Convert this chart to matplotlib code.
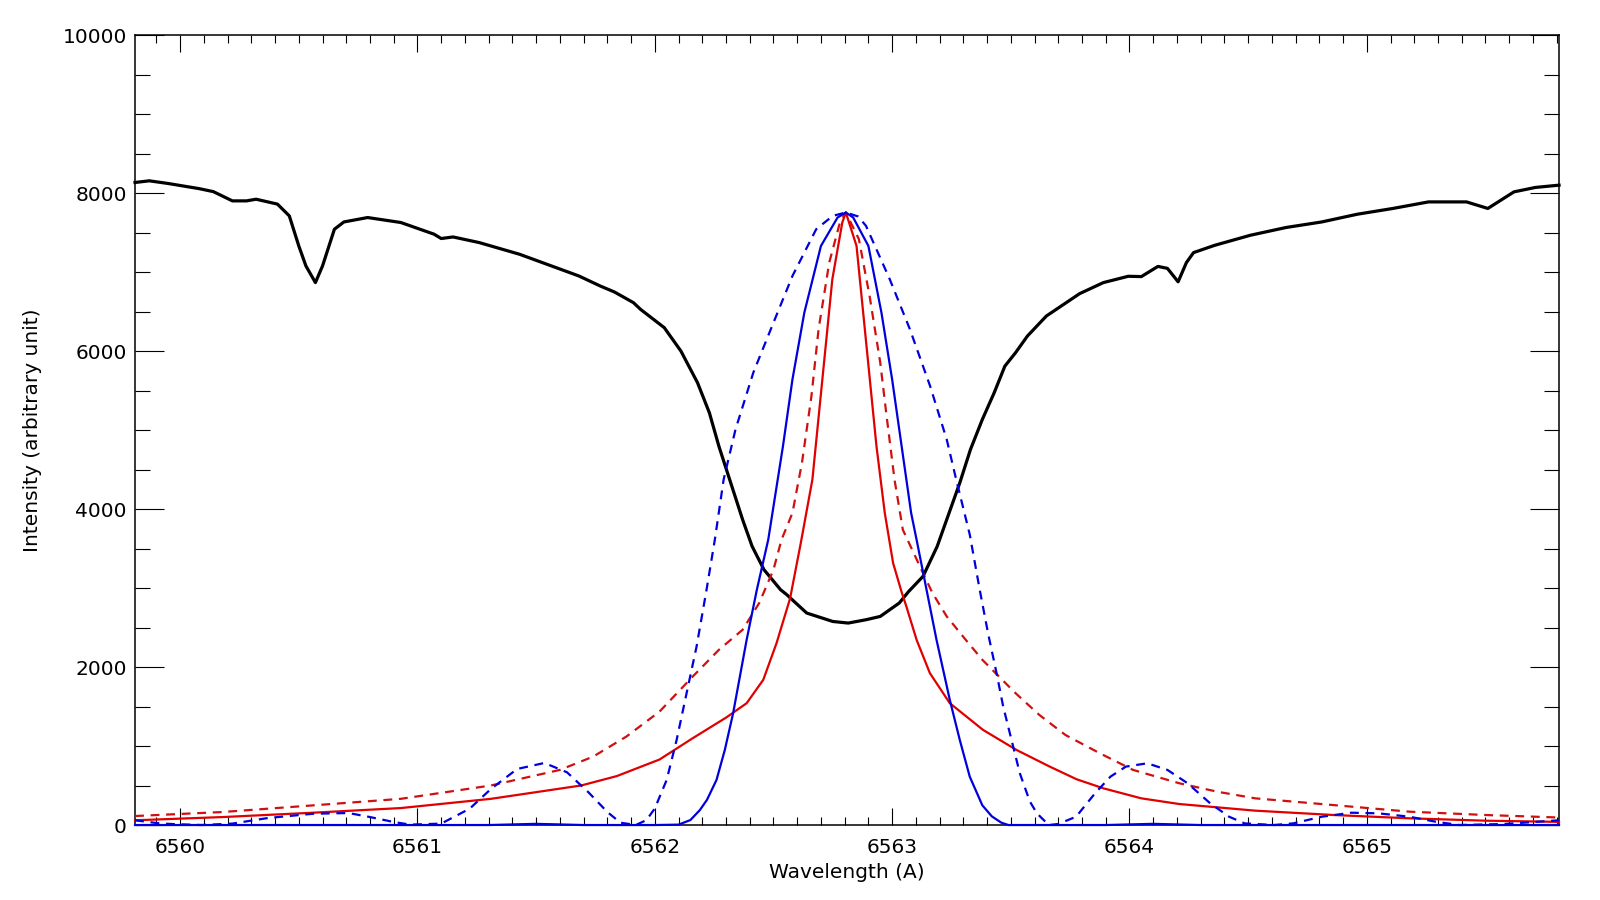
import matplotlib
matplotlib.use("Agg")
from matplotlib import pyplot as plt
from matplotlib.ticker import MultipleLocator

# observed H-alpha profile (black)
wl_obs = [6559.81, 6559.87, 6559.95, 6560.08, 6560.14, 6560.22, 6560.28, 6560.32,
          6560.41, 6560.46, 6560.50, 6560.53, 6560.57, 6560.60, 6560.65, 6560.69,
          6560.79, 6560.93, 6561.07, 6561.10, 6561.15, 6561.26, 6561.43, 6561.68,
          6561.77, 6561.83, 6561.91, 6561.94, 6562.04, 6562.11, 6562.18, 6562.23,
          6562.27, 6562.32, 6562.37, 6562.41, 6562.46, 6562.53, 6562.555, 6562.64,
          6562.75, 6562.815, 6562.89, 6562.95, 6562.99, 6563.03, 6563.07, 6563.13,
          6563.19, 6563.24, 6563.285, 6563.33, 6563.38, 6563.43, 6563.475, 6563.52,
          6563.57, 6563.65, 6563.79, 6563.89, 6563.995, 6564.05, 6564.12, 6564.16,
          6564.205, 6564.24, 6564.27, 6564.36, 6564.51, 6564.66, 6564.81, 6564.96,
          6565.11, 6565.26, 6565.42, 6565.51, 6565.62, 6565.71, 6565.81]
int_obs = [8138, 8159, 8125, 8060, 8022, 7905, 7905, 7926,
           7864, 7715, 7334, 7081, 6870, 7081, 7546, 7638,
           7694, 7631, 7483, 7428, 7448, 7377, 7229, 6954,
           6827, 6751, 6616, 6531, 6299, 6003, 5602, 5221,
           4798, 4333, 3868, 3530, 3234, 2980, 2920, 2685,
           2578, 2558, 2600, 2642, 2727, 2812, 2959, 3149,
           3530, 3953, 4333, 4756, 5136, 5475, 5812, 5982,
           6193, 6447, 6730, 6870, 6950, 6946, 7075, 7050,
           6880, 7124, 7250, 7343, 7470, 7568, 7638, 7736,
           7809, 7892, 7892, 7809, 8019, 8075, 8104]

# filter profile, solid blue
wl_blue = [6559.81, 6561.30, 6561.50, 6561.70, 6562.00, 6562.10, 6562.15, 6562.19,
           6562.22, 6562.26, 6562.295, 6562.33, 6562.387, 6562.43, 6562.478, 6562.54,
           6562.58, 6562.63, 6562.70, 6562.77, 6562.805, 6562.836, 6562.90, 6562.955,
           6563.00, 6563.04, 6563.08, 6563.103, 6563.145, 6563.187, 6563.243, 6563.285,
           6563.327, 6563.38, 6563.42, 6563.46, 6563.49, 6563.90, 6564.10, 6564.30,
           6565.81]
int_blue = [0, 0, 15, 0, 0, 5, 63, 190,
            320, 571, 951, 1416, 2346, 2980, 3614, 4798,
            5644, 6489, 7334, 7694, 7758, 7694, 7334, 6489,
            5644, 4798, 3953, 3614, 2980, 2346, 1585, 1078,
            613, 250, 110, 30, 0, 0, 15, 0,
            0]

# filter profile, dashed blue
wl_blue_d = [6559.81, 6559.92, 6560.09, 6560.22, 6560.37, 6560.56, 6560.71, 6560.80,
             6560.90, 6560.97, 6561.10, 6561.22, 6561.31, 6561.42, 6561.535, 6561.63,
             6561.72, 6561.80, 6561.855, 6561.92, 6561.965, 6562.00, 6562.05, 6562.092,
             6562.134, 6562.176, 6562.218, 6562.253, 6562.29, 6562.34, 6562.415, 6562.50,
             6562.58, 6562.68, 6562.75, 6562.805, 6562.857, 6562.89, 6562.99, 6563.075,
             6563.16, 6563.23, 6563.27, 6563.327, 6563.369, 6563.404, 6563.44, 6563.468,
             6563.503, 6563.538, 6563.58, 6563.61, 6563.66, 6563.70, 6563.775, 6563.855,
             6563.92, 6563.985, 6564.075, 6564.16, 6564.245, 6564.34, 6564.42, 6564.485,
             6564.61, 6564.69, 6564.81, 6564.935, 6565.05, 6565.18, 6565.29, 6565.39,
             6565.58, 6565.72, 6565.81]
int_blue_d = [60, 18, 0, 18, 89, 143, 152, 101,
              38, 5, 18, 207, 458, 710, 786, 668,
              416, 165, 30, 0, 63, 210, 571, 1078,
              1670, 2261, 2980, 3614, 4375, 5010, 5729, 6363,
              6954, 7546, 7715, 7758, 7707, 7588, 6912, 6278,
              5559, 4883, 4375, 3680, 2980, 2431, 1924, 1500,
              1078, 656, 300, 148, 0, 13, 105, 402,
              613, 740, 782, 698, 529, 275, 105, 21,
              0, 21, 105, 156, 148, 105, 42, 0,
              13, 42, 60]

# model profile, solid red
wl_red = [6559.81, 6560.18, 6560.56, 6560.93, 6561.31, 6561.69, 6561.84, 6562.02,
          6562.16, 6562.30, 6562.387, 6562.457, 6562.513, 6562.57, 6562.615, 6562.664,
          6562.692, 6562.72, 6562.748, 6562.79, 6562.805, 6562.85, 6562.878, 6562.906,
          6562.934, 6562.969, 6563.004, 6563.04, 6563.06, 6563.103, 6563.159, 6563.243,
          6563.383, 6563.524, 6563.664, 6563.777, 6563.89, 6564.05, 6564.21, 6564.53,
          6564.86, 6565.18, 6565.50, 6565.81]
int_red = [60, 101, 156, 215, 332, 501, 620, 830,
           1100, 1360, 1543, 1839, 2304, 2870, 3570, 4375,
           5221, 6066, 6912, 7631, 7758, 7334, 6489, 5644,
           4798, 3953, 3319, 2950, 2768, 2346, 1924, 1543,
           1205, 951, 740, 580, 465, 338, 266, 182,
           127, 85, 55, 40]

# model profile, dashed red
wl_red_d = [6559.81, 6560.18, 6560.56, 6560.93, 6561.31, 6561.60, 6561.74, 6561.88,
            6562.02, 6562.16, 6562.27, 6562.37, 6562.44, 6562.50, 6562.534, 6562.58,
            6562.62, 6562.66, 6562.69, 6562.735, 6562.78, 6562.805, 6562.86, 6562.905,
            6562.95, 6562.975, 6563.01, 6563.045, 6563.09, 6563.13, 6563.17, 6563.23,
            6563.31, 6563.38, 6563.45, 6563.52, 6563.62, 6563.73, 6563.875, 6564.015,
            6564.21, 6564.37, 6564.53, 6564.855, 6565.18, 6565.50, 6565.81]
int_red_d = [114, 165, 249, 332, 501, 698, 866, 1120,
             1437, 1881, 2219, 2473, 2812, 3234, 3614, 3953,
             4587, 5432, 6278, 7124, 7631, 7758, 7419, 6700,
             5855, 5221, 4375, 3741, 3450, 3192, 2938, 2642,
             2346, 2093, 1881, 1670, 1395, 1141, 909, 698,
             529, 422, 338, 254, 169, 127, 95]

plt.rcParams['font.family'] = ['DejaVu Sans']

fig = plt.figure(figsize=(16, 9), dpi=100)
ax = fig.add_axes([0.0844, 0.0833, 0.89, 0.8773])

blue = '#0000dd'
red = '#e00000'

ax.plot(wl_obs, int_obs, color='black', lw=2.3, clip_on=False, zorder=3)
ax.plot(wl_red_d, int_red_d, color='#d01010', lw=1.6, dashes=(4, 3), clip_on=False, zorder=4)
ax.plot(wl_red, int_red, color=red, lw=1.6, clip_on=False, zorder=4)
ax.plot(wl_blue_d, int_blue_d, color=blue, lw=1.6, dashes=(4, 3), clip_on=False, zorder=5)
ax.plot(wl_blue, int_blue, color=blue, lw=1.6, clip_on=False, zorder=5)

ax.set_xlim(6559.81, 6565.81)
ax.set_ylim(0, 10000)

ax.xaxis.set_major_locator(MultipleLocator(1))
ax.xaxis.set_minor_locator(MultipleLocator(0.1))
ax.yaxis.set_major_locator(MultipleLocator(2000))
ax.yaxis.set_minor_locator(MultipleLocator(500))

ax.tick_params(axis='both', which='both', direction='in', top=True, right=True,
               width=0.8, labelsize=14.5)
ax.tick_params(axis='x', which='major', length=12, pad=9)
ax.tick_params(axis='x', which='minor', length=6)
ax.tick_params(axis='y', which='major', length=21, pad=6)
ax.tick_params(axis='y', which='minor', length=10.5)
for s in ax.spines.values():
    s.set_linewidth(1.1)

ax.set_xlabel("Wavelength (A)", fontsize=14.5)
ax.set_ylabel("Intensity (arbitrary unit)", fontsize=14.5)
ax.xaxis.set_label_coords(0.5, -0.048)
ax.yaxis.set_label_coords(-0.065, 0.5)

fig.savefig("out.png", dpi=100)
